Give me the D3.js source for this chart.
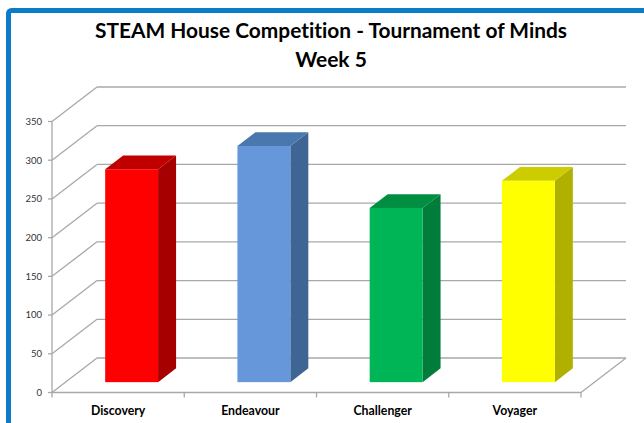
<!DOCTYPE html>
<html>
<head>
<meta charset="utf-8">
<script src="https://cdn.jsdelivr.net/npm/d3@7"></script>
<style>
  html, body { margin: 0; padding: 0; background: #fff; }
  svg { display: block; font-family: Lato, "Open Sans", sans-serif; font-variant-ligatures: none; }
</style>
</head>
<body>
<div id="chart"></div>
<script>
// Data
const houses = ['Discovery', 'Endeavour', 'Challenger', 'Voyager'];
const points = [275, 305, 225, 260];
const yTicks = [0, 50, 100, 150, 200, 250, 300, 350];
const frontColors = ['#ff0000', '#6597da', '#00b555', '#ffff00'];
const topColors = ['#c00000', '#4a77ad', '#008f40', '#cccc00'];
const sideColors = ['#a60000', '#3e6593', '#007d3a', '#b0b000'];

const W = 644, H = 423;
const svg = d3.select('#chart').append('svg')
  .attr('width', W)
  .attr('height', H);

// frame
svg.append('rect')
  .attr('x', 8.5).attr('y', 10.5)
  .attr('width', 700).attr('height', 500)
  .attr('rx', 3)
  .attr('fill', '#fff')
  .attr('stroke', '#0a7cc8')
  .attr('stroke-width', 5);

// title
const title = svg.append('text')
  .attr('text-anchor', 'middle')
  .attr('font-weight', 'bold')
  .attr('font-size', 21)
  .attr('fill', '#000');
title.append('tspan').attr('x', 331).attr('y', 38)
  .attr('textLength', 472).attr('lengthAdjust', 'spacingAndGlyphs')
  .text('STEAM House Competition - Tournament of Minds');
title.append('tspan').attr('x', 331).attr('y', 67).text('Week 5');

// scales
const x = d3.scaleBand().domain(houses).range([52, 581]).paddingInner(0).paddingOuter(0);
const y = d3.scaleLinear().domain([0, 350]).range([392.5, 121.5]);
const depth = { dx: 45, dy: -34.5 };
const backX0 = x.range()[0] + depth.dx;
const backX1 = x.range()[1] + depth.dx;

const grid = svg.append('g')
  .attr('stroke', '#a8a8a8')
  .attr('stroke-width', 1.3)
  .attr('fill', 'none');

// back wall gridlines and side wall diagonals
yTicks.forEach(t => {
  grid.append('line')
    .attr('x1', backX0).attr('x2', backX1)
    .attr('y1', y(t) + depth.dy).attr('y2', y(t) + depth.dy);
  grid.append('line')
    .attr('x1', x.range()[0]).attr('x2', backX0)
    .attr('y1', y(t)).attr('y2', y(t) + depth.dy);
});

// floor right edge
grid.append('line')
  .attr('x1', x.range()[1]).attr('x2', backX1)
  .attr('y1', y(0)).attr('y2', y(0) + depth.dy);

// front axes
grid.append('line')
  .attr('x1', x.range()[0]).attr('x2', x.range()[0])
  .attr('y1', y(350)).attr('y2', y(0));
grid.append('line')
  .attr('x1', x.range()[0]).attr('x2', x.range()[1])
  .attr('y1', y(0)).attr('y2', y(0));

// y ticks
yTicks.forEach(t => {
  grid.append('line')
    .attr('x1', x.range()[0] - 4).attr('x2', x.range()[0])
    .attr('y1', y(t)).attr('y2', y(t));
});

// category ticks
const bounds = houses.map(h => x(h)).concat([x.range()[1]]);
bounds.forEach(b => {
  grid.append('line')
    .attr('x1', b).attr('x2', b)
    .attr('y1', y(0)).attr('y2', y(0) + 5);
});

// y labels
svg.append('g')
  .selectAll('text')
  .data(yTicks)
  .join('text')
  .attr('x', 42)
  .attr('y', d => y(d))
  .attr('dy', '0.35em')
  .attr('text-anchor', 'end')
  .attr('font-size', 9.5)
  .attr('fill', '#333')
  .text(d => d);

// category labels
svg.append('g')
  .selectAll('text')
  .data(houses)
  .join('text')
  .attr('x', d => x(d) + x.bandwidth() / 2)
  .attr('y', 415)
  .attr('text-anchor', 'middle')
  .attr('font-size', 12.3)
  .attr('font-weight', 'bold')
  .attr('fill', '#000')
  .text(d => d);

// 3D bars
const d0 = 0.3, dd = 0.4, widthFrac = 0.4;
const bars = svg.append('g');
houses.forEach((h, i) => {
  const bw = x.bandwidth() * widthFrac;
  const x0 = x(h) + (x.bandwidth() - bw) / 2 + d0 * depth.dx;
  const x1 = x0 + bw;
  const top = y(points[i]) + d0 * depth.dy;
  const bottom = y(0) + d0 * depth.dy;
  const ox = dd * depth.dx, oy = dd * depth.dy;

  // side face
  bars.append('polygon')
    .attr('points', [[x1, top], [x1 + ox, top + oy], [x1 + ox, bottom + oy], [x1, bottom]].join(' '))
    .attr('fill', sideColors[i]);
  // top face
  bars.append('polygon')
    .attr('points', [[x0, top], [x0 + ox, top + oy], [x1 + ox, top + oy], [x1, top]].join(' '))
    .attr('fill', topColors[i]);
  // front face
  bars.append('rect')
    .attr('x', x0).attr('y', top)
    .attr('width', bw).attr('height', bottom - top)
    .attr('fill', frontColors[i]);
});
</script>
</body>
</html>
